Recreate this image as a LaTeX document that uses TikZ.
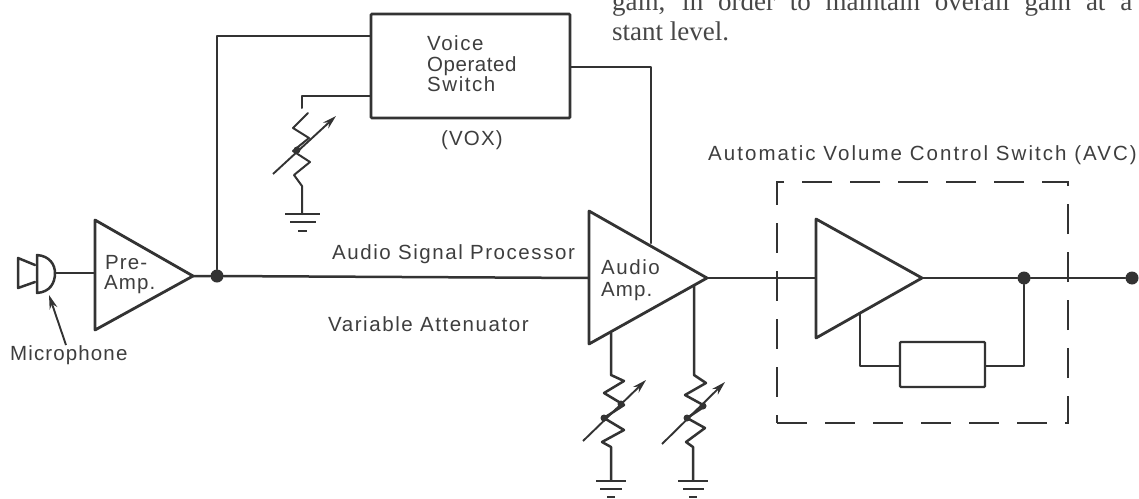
\documentclass[tikz,border=0pt]{standalone}
\usepackage{fontspec}
\setmainfont{Liberation Sans}
\newfontfamily\labA[LetterSpace=2.7]{Liberation Sans}
\newfontfamily\labB[LetterSpace=5.5]{Liberation Sans}
\newfontfamily\labC[LetterSpace=7.6]{Liberation Sans}
\newfontfamily\labD[LetterSpace=10]{Liberation Sans}
\newfontfamily\book{Liberation Serif}
\usetikzlibrary{arrows.meta}
\definecolor{ink}{HTML}{333333}
\definecolor{txt}{HTML}{3E3E3E}
\tikzset{
  wire/.style={draw=ink,line width=2.5pt,line join=round,line cap=round},
  thin wire/.style={draw=ink,line width=2pt,line join=round,line cap=round},
  amp/.style={draw=ink,line width=2.8pt,line join=round,fill=white},
  label/.style={inner sep=0pt,anchor=base west,text=txt,font=\fontsize{20.5}{24}\selectfont},
  bookline/.style={inner sep=0pt,anchor=base west,text=black!72,font=\fontsize{27}{30}\selectfont\book},
  junction/.style={circle,fill=ink,inner sep=0pt,minimum size=13pt},
  ptr/.style={draw=ink,line width=1.9pt,-{Stealth[length=14pt,width=8pt]}},
  gbar/.style={draw=ink,line width=2.8pt},
}
\begin{document}
\begin{tikzpicture}[x=1pt,y=-1pt]
\useasboundingbox (0,0) rectangle (1139,498);
\fill[white] (0,0) rectangle (1139,498);

% coordinates
\coordinate (pa) at (95,220); \coordinate (pb) at (95,330); \coordinate (po) at (193,276);
\coordinate (aa) at (589,211); \coordinate (ab) at (589,344); \coordinate (ao) at (707,278);
\coordinate (va) at (816,219); \coordinate (vb) at (816,338); \coordinate (vo) at (922,278);
\coordinate (micin) at (55,273); \coordinate (prein) at (95,273);
\coordinate (ai) at (589,278); \coordinate (vi) at (816,278);

% main signal path
\node[junction] (j1) at (217,276) {};
\node[junction] (j2) at (1024,278) {};
\node[junction] (out) at (1132,278) {};
\draw[wire] (micin) -- (prein);
\draw[wire] (po) -- (j1) -- (ai);
\draw[wire] (ao) -- (vi);
\draw[wire] (vo) -- (j2) -- (out);

% VOX
\node[draw=ink,line width=2.6pt,rounded corners=1pt,minimum width=199pt,minimum height=104pt,inner sep=0pt] (vox) at (470.5,66) {};
\draw[wire] (j1) -- (217,36) -- (vox.west |- 0,36);
\draw[wire] (vox.east |- 0,67) -- (651,67) -- (651,243);
\draw[thin wire] (vox.west |- 0,96) -- (302,96) -- (302,108);
\draw[thin wire] (308,113) -- (293,128) -- (309,138) -- (293,151) -- (310,162) -- (294,175) -- (302,186) -- (302,214);
\draw[ptr] (273,174) -- (336,116);
\fill[ink] (297,150) circle (3.5pt);
\draw[gbar] (285,214) -- (320,214); \draw[gbar] (290,222) -- (316,222); \draw[gbar] (298,231) -- (307,231);

% amplifiers
\draw[amp] (pa) -- (pb) -- (po) -- cycle;
\draw[amp] (aa) -- (ab) -- (ao) -- cycle;
\draw[amp] (va) -- (vb) -- (vo) -- cycle;

% microphone
\draw[wire] (35,265) -- (18,258) -- (18,288) -- (35,282);
\draw[wire] (37,255) .. controls (50,256) and (55,265) .. (55,273) .. controls (55,283) and (50,292) .. (37,293) -- cycle;
\coordinate (mt) at (66,345); \coordinate (mh) at (49,295);
\draw[ptr] (mt) -- (mh);

% audio amp resistors
\draw[wire] (611,333) -- (611,375) -- (624,381) -- (604,393) -- (624,405) -- (604,418) -- (624,430) -- (602,442) -- (611,447) -- (611,480);
\draw[ptr] (583,441) -- (646,380);
\fill[ink] (604,418) circle (3.5pt); \fill[ink] (621,404) circle (3.5pt);
\draw[gbar] (596,481) -- (626,481); \draw[gbar] (600,489) -- (622,489); \draw[gbar] (607,497) -- (615,497);
\draw[wire] (694,285) -- (694,375) -- (706,383) -- (685,395) -- (705,406) -- (687,418) -- (705,428) -- (686,442) -- (693,447) -- (693,480);
\draw[ptr] (662,444) -- (725,382);
\fill[ink] (687,418) circle (3.5pt); \fill[ink] (703,406) circle (3.5pt);
\draw[gbar] (678,481) -- (708,481); \draw[gbar] (683,489) -- (704,489); \draw[gbar] (689,497) -- (697,497);

% AVC
\node[draw=ink,line width=2.6pt,dash pattern=on 30pt off 18pt,minimum width=291pt,minimum height=241pt,inner sep=0pt] (avc) at (922.5,302.5) {};
\node[draw=ink,line width=2.4pt,rounded corners=1pt,minimum width=85pt,minimum height=45pt,inner sep=0pt] (rc) at (942.5,364.5) {};
\draw[wire] (860,314) -- (860,366) -- (rc.west |- 0,366);
\draw[wire] (rc.east |- 0,366) -- (1024,366) -- (j2);

% text
\node[label] (t1) at (427,50) {\labC Voice};
\node[label] (t2) at (427,71) {\labA Operated};
\node[label] (t3) at (427,91) {\labC Switch};
\node[label] (t4) at (441,145) {\labB (VOX)};
\node[label] (t5) at (105,269) {\labB Pre-};
\node[label] (t6) at (104,289) {\labB Amp.};
\node[label] (t7) at (10,360) {\labB Microphone};
\node[label] (t8) at (332,259) {\labC Audio Signal Processor};
\node[label] (t9) at (328,331) {\labC Variable Attenuator};
\node[label] (t10) at (601,274) {\labC Audio};
\node[label] (t11) at (601,296) {\labB Amp.};
\node[label] (t12) at (708,160) {\labD Automatic Volume Control Switch (AVC)};
\node[bookline] (b1) at (612,10) {\makebox[520pt][s]{gain, in order to maintain overall gain at a}};
\node[bookline] (b2) at (612,40) {stant level.};
\end{tikzpicture}
\end{document}
